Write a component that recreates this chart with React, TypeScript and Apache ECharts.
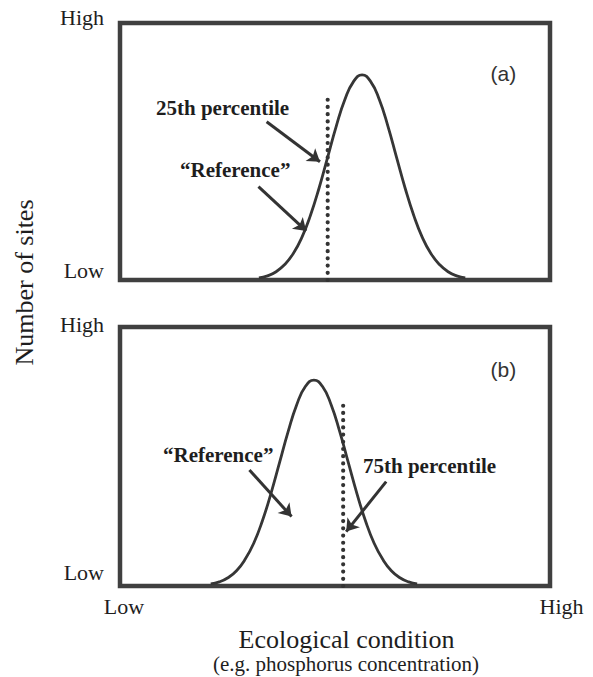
import React, { useEffect, useRef } from "react";
import * as echarts from "echarts";

// Panel (a): reference distribution, x = ecological condition (0-100), y = number of sites (0-100)
const curveA: [number, number][] = [
  [32.3, 0.8], [34.3, 1.6], [36.3, 3.2], [38.3, 6.0], [40.3, 10.3], [42.3, 16.6],
  [44.3, 25.2], [46.3, 35.8], [48.3, 47.8], [50.3, 59.9], [52.3, 70.2], [54.3, 77.2],
  [56.3, 79.8], [58.3, 77.2], [60.3, 70.2], [62.3, 59.9], [64.3, 47.8], [66.3, 35.8],
  [68.3, 25.2], [70.3, 16.6], [72.3, 10.3], [74.3, 6.0], [76.3, 3.2], [78.3, 1.6], [80.3, 0.8],
];
// Panel (b)
const curveB: [number, number][] = [
  [21.1, 0.8], [23.1, 1.6], [25.1, 3.2], [27.1, 5.9], [29.1, 10.3], [31.1, 16.5],
  [33.1, 25.1], [35.1, 35.7], [37.1, 47.6], [39.1, 59.6], [41.1, 70.0], [43.1, 77.0],
  [45.1, 79.5], [47.1, 77.0], [49.1, 70.0], [51.1, 59.6], [53.1, 47.6], [55.1, 35.7],
  [57.1, 25.1], [59.1, 16.5], [61.1, 10.3], [63.1, 5.9], [65.1, 3.2], [67.1, 1.6], [69.1, 0.8],
];
// percentile lines [x, top]
const percentileA: [number, number][] = [[48.3, 0], [48.3, 71.6]];
const percentileB: [number, number][] = [[51.9, 0], [51.9, 71.4]];
// arrows [start, end]
const arrowsA: [number, number][][] = [
  [[34.1, 61.6], [46.5, 46.0]],
  [[32.2, 36.3], [43.3, 19.1]],
];
const arrowsB: [number, number][][] = [
  [[30.1, 44.8], [39.9, 26.8]],
  [[61.9, 40.3], [52.6, 21.0]],
];
const yTicks = ["Low", "High"];
const xTicks = ["Low", "High"];

const SERIF = "'Liberation Serif', 'Times New Roman', serif";
const SANS = "'Liberation Sans', Arial, sans-serif";
const INK = "#1e1e1e";
const LINE = "#363636";

function txt(text: string, x: number, y: number, o: any = {}) {
  return {
    type: "text",
    x,
    y,
    rotation: o.rotation || 0,
    silent: true,
    style: {
      text,
      fill: o.fill || INK,
      fontSize: o.fontSize || 22,
      fontFamily: o.fontFamily || SERIF,
      fontWeight: o.fontWeight || "normal",
      align: o.align || "left",
      verticalAlign: "middle",
    },
  };
}

export default function App() {
  const ref = useRef<HTMLDivElement>(null);
  useEffect(() => {
    if (!ref.current) return;
    const chart = echarts.init(ref.current, null, { renderer: "svg" });
    const gridBase = {
      left: 120,
      width: 430,
      show: true,
      borderColor: "#404040",
      borderWidth: 4.5,
      backgroundColor: "transparent",
    };
    const arrowML = (arr: [number, number][][]) => ({
      silent: true,
      symbol: ["none", "arrow"],
      symbolSize: 12,
      label: { show: false },
      lineStyle: { color: "#333", width: 3, type: "solid" },
      emphasis: { disabled: true },
      data: arr.map((a) => [{ coord: a[0] }, { coord: a[1] }]),
    });
    const dotted = { color: "#333", width: 4.2, type: [0.01, 7.2], cap: "round" };
    chart.setOption({
      animation: false,
      grid: [
        { ...gridBase, top: 23, height: 257 },
        { ...gridBase, top: 327, height: 259 },
      ],
      xAxis: [0, 1].map((i) => ({
        type: "value", gridIndex: i, min: 0, max: 100, show: false,
      })),
      yAxis: [0, 1].map((i) => ({
        type: "value", gridIndex: i, min: 0, max: 100, show: false,
      })),
      series: [
        {
          type: "line", xAxisIndex: 0, yAxisIndex: 0, data: curveA, smooth: true,
          showSymbol: false, silent: true, lineStyle: { color: LINE, width: 2.8 },
          markLine: arrowML(arrowsA),
        },
        {
          type: "line", xAxisIndex: 0, yAxisIndex: 0, data: percentileA,
          showSymbol: false, silent: true, lineStyle: dotted,
        },
        {
          type: "line", xAxisIndex: 1, yAxisIndex: 1, data: curveB, smooth: true,
          showSymbol: false, silent: true, lineStyle: { color: LINE, width: 2.8 },
          markLine: arrowML(arrowsB),
        },
        {
          type: "line", xAxisIndex: 1, yAxisIndex: 1, data: percentileB,
          showSymbol: false, silent: true, lineStyle: dotted,
        },
      ],
      graphic: [
        txt(yTicks[1], 104, 17.5, { align: "right" }),
        txt(yTicks[0], 104, 270.5, { align: "right" }),
        txt(yTicks[1], 104, 324, { align: "right" }),
        txt(yTicks[0], 104, 572.5, { align: "right" }),
        txt(xTicks[0], 124, 606.5, { align: "center" }),
        txt(xTicks[1], 561.5, 606.5, { align: "center" }),
        txt("Number of sites", 24.5, 282.5, { align: "center", fontSize: 26, rotation: Math.PI / 2 }),
        txt("Ecological condition", 346.5, 639, { align: "center", fontSize: 26 }),
        txt("(e.g. phosphorus concentration)", 346, 664, { align: "center", fontSize: 21 }),
        txt("25th percentile", 156, 108, { fontSize: 21, fontWeight: "bold" }),
        txt("\u201CReference\u201D", 180, 170, { fontSize: 21, fontWeight: "bold" }),
        txt("\u201CReference\u201D", 163, 455, { fontSize: 21, fontWeight: "bold" }),
        txt("75th percentile", 363, 466, { fontSize: 21, fontWeight: "bold" }),
        txt("(a)", 490.5, 73, { fontSize: 21, fontFamily: SANS, fill: "#333" }),
        txt("(b)", 490.5, 369, { fontSize: 21, fontFamily: SANS, fill: "#333" }),
      ],
    });
    return () => chart.dispose();
  }, []);
  return (
    <div
      ref={ref}
      style={{ position: "fixed", left: 0, top: 0, width: 593, height: 677, background: "#fff" }}
    />
  );
}
